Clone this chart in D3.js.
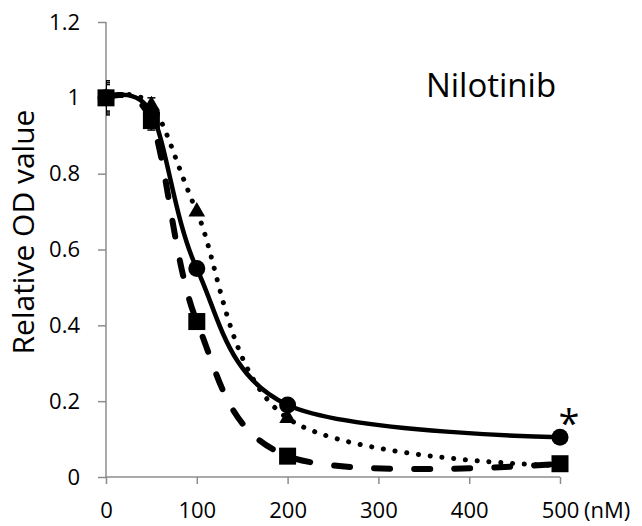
<!DOCTYPE html>
<html><head><meta charset="utf-8">
<script src="https://cdn.jsdelivr.net/npm/d3@7"></script>
<style>body{margin:0;background:#fff}</style>
</head><body>
<svg id="c" width="642" height="526"></svg>
<script>
const doses = [0, 50, 100, 200, 500];
const circleVals = [1.0, 0.96, 0.55, 0.19, 0.105];
const triangleVals = [1.0, 0.98, 0.70, 0.155, 0.03];
const squareVals = [1.0, 0.94, 0.41, 0.055, 0.035];
const errCircle = [0.045, 0, 0, 0, 0];
const errTriangle = [0.035, 0.02, 0, 0, 0];
const errSquare = [0.04, 0.025, 0, 0, 0];
const xTicks = [0, 100, 200, 300, 400, 500];
const yTicks = [0, 0.2, 0.4, 0.6, 0.8, 1.0, 1.2];

const svg = d3.select("#c");
const x = d3.scaleLinear().domain([0, 500]).range([106, 560]);
const y = d3.scaleLinear().domain([0, 1.2]).range([477, 22]);
const font = "'Open Sans', 'Liberation Sans', sans-serif";
const axisCol = "#8c8c8c";

svg.append("defs").append("clipPath").attr("id", "plot")
  .append("rect").attr("x", 106).attr("y", 0).attr("width", 536).attr("height", 526);

// axes
const gy = svg.append("g").attr("transform", "translate(106,0)")
  .call(d3.axisLeft(y).tickValues(yTicks).tickSize(8).tickPadding(18)
    .tickFormat(d => d === 0 ? "0" : d === 1 ? "1" : d3.format(".1f")(d)));
const gx = svg.append("g").attr("transform", "translate(0,477)")
  .call(d3.axisBottom(x).tickValues(xTicks).tickSize(7).tickPadding(18));
[gx, gy].forEach(g => {
  g.select(".domain").attr("stroke", axisCol).attr("stroke-width", 1.5);
  g.selectAll(".tick line").attr("stroke", axisCol).attr("stroke-width", 1.5);
  g.selectAll("text").attr("font-family", font).attr("font-size", 22).attr("fill", "#000");
});
gy.select(".domain").attr("d", "M0,22V477");
gx.select(".domain").attr("d", "M106,0H560");

svg.append("text").attr("x", 584).attr("y", 518).attr("font-family", font)
  .attr("font-size", 22).text("(nM)");

svg.append("text").attr("transform", "translate(34,232) rotate(-90)")
  .attr("text-anchor", "middle").attr("font-family", font).attr("font-size", 30)
  .text("Relative OD value");

svg.append("text").attr("x", 491).attr("y", 97).attr("text-anchor", "middle")
  .attr("font-family", font).attr("font-size", 33).text("Nilotinib");

// error bars (clipped to plot area)
const eb = svg.append("g").attr("stroke", "#000").attr("stroke-width", 1.5).attr("clip-path", "url(#plot)");
[[circleVals, errCircle], [triangleVals, errTriangle], [squareVals, errSquare]].forEach(([vals, errs]) => {
  doses.forEach((d, i) => {
    const e = errs[i];
    if (!e) return;
    eb.append("line").attr("x1", x(d)).attr("x2", x(d)).attr("y1", y(vals[i] + e)).attr("y2", y(vals[i] - e));
    [1, -1].forEach(s => eb.append("line").attr("x1", x(d) - 4).attr("x2", x(d) + 4)
      .attr("y1", y(vals[i] + s * e)).attr("y2", y(vals[i] + s * e)));
  });
});

const line = d3.line().x((d, i) => x(doses[i])).y(d => y(d)).curve(d3.curveCatmullRom.alpha(0));

svg.append("path").attr("d", line(triangleVals)).attr("fill", "none").attr("stroke", "#000")
  .attr("stroke-width", 5).attr("stroke-linecap", "round").attr("stroke-dasharray", "0.1 11.7");
svg.append("path").attr("d", line(squareVals)).attr("fill", "none").attr("stroke", "#000")
  .attr("stroke-width", 6).attr("stroke-linecap", "round").attr("stroke-dasharray", "16 24");
svg.append("path").attr("d", line(circleVals)).attr("fill", "none").attr("stroke", "#000")
  .attr("stroke-width", 4.5);

// markers
svg.selectAll(".tri").data(triangleVals).join("path")
  .attr("transform", (d, i) => `translate(${x(doses[i])},${y(d)})`)
  .attr("d", d3.symbol().type(d3.symbolTriangle).size(120)).attr("fill", "#000");
svg.selectAll(".cir").data(circleVals).join("circle")
  .attr("cx", (d, i) => x(doses[i])).attr("cy", d => y(d)).attr("r", 8.5).attr("fill", "#000");
svg.selectAll(".sq").data(squareVals).join("rect")
  .attr("x", (d, i) => x(doses[i]) - 8.5).attr("y", d => y(d) - 8.5)
  .attr("width", 17).attr("height", 17).attr("fill", "#000");

svg.append("text").attr("x", 569).attr("y", 437).attr("text-anchor", "middle")
  .attr("font-family", font).attr("font-size", 38).text("*");
</script>
</body></html>
